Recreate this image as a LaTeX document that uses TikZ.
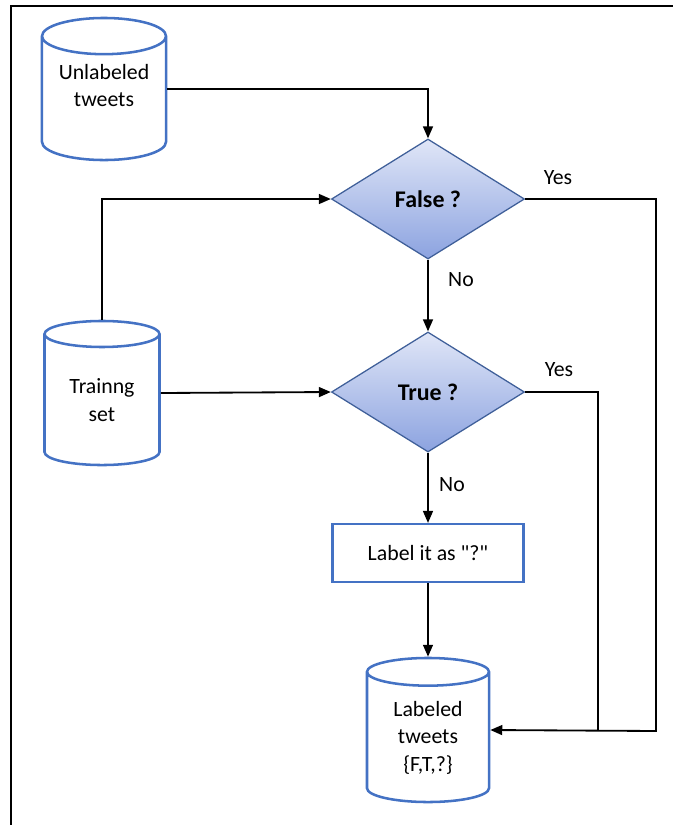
\documentclass[tikz,border=0pt]{standalone}
\usepackage{fontspec}
\setmainfont{Carlito}
\usetikzlibrary{shapes.geometric, arrows.meta}
\definecolor{dbBlue}{HTML}{4472C4}
\definecolor{diaLine}{HTML}{3F5F99}
\definecolor{diaTop}{HTML}{E0E6F7}
\definecolor{diaBot}{HTML}{8CA3E0}

\begin{document}
\begin{tikzpicture}[x=0.025cm, y=-0.025cm,
    font=\fontsize{15.5}{19.5}\selectfont,
    db/.style={cylinder, shape border rotate=90, aspect=0.4, draw=dbBlue,
        line width=1.8pt, fill=white, align=center, inner sep=0pt,
        anchor=shape center},
    decision/.style={diamond, draw=diaLine, line width=0.9pt, top color=diaTop,
        bottom color=diaBot, minimum width=4.825cm, minimum height=3cm,
        inner sep=0pt, font=\fontsize{17}{20}\selectfont\bfseries},
    action/.style={rectangle, draw=dbBlue, line width=1.5pt, minimum width=4.775cm,
        minimum height=1.45cm},
    link/.style={line width=1.3pt},
    arr/.style={link, -{Triangle[length=8.5pt, width=7pt]}}]
        \useasboundingbox (0,0) rectangle (673,825);

        % Frame: top and left edges only
        \draw[line width=1.6pt] (10,6) -- (673,6);
        \draw[line width=1.6pt] (11,6) -- (11,825);

        % Data stores
        \node[db, minimum width=3.1cm, minimum height=3.55cm, text depth=0.65cm] (unl) at (104,89) {Unlabeled\\tweets};
        \node[db, minimum width=2.875cm, minimum height=3.6cm] (trn) at (102,393) {Trainng\\set};
        \node[db, minimum width=3.05cm, minimum height=3.6cm] (lab) at (428,730) {Labeled\\tweets\\\{F,T,?\}};

        % Decisions
        \node[decision] (fq) at (428,199) {False ?};
        \node[decision] (tq) at (428,392) {True ?};

        % Fallback step
        \node[action] (lbl) at (428,553) {Label it as \textquotedbl?\textquotedbl};

        % Branch labels
        \node at (558,178) {Yes};
        \node at (461,280) {No};
        \node at (559,370) {Yes};
        \node at (452,485) {No};

        % Corners of the Yes lines
        \coordinate (yes1) at (656,731);
        \coordinate (yes2) at (598,731);

        % Connectors
        \draw[arr] (unl.shape center -| unl.east) -| (fq.north);
        \draw[arr] (trn.north) |- (fq.west);
        \draw[arr] (trn.shape center -| trn.east) -- (tq.west);
        \draw[arr] (fq.south) -- (tq.north);
        \draw[arr] (tq.south) -- (lbl.north);
        \draw[arr] (lbl.south) -- (lab.north);
        \draw[arr] (fq.east) -| (yes1) -- (lab.shape center -| lab.east);
        \draw[link] (tq.east) -| (yes2);
\end{tikzpicture}
\end{document}
